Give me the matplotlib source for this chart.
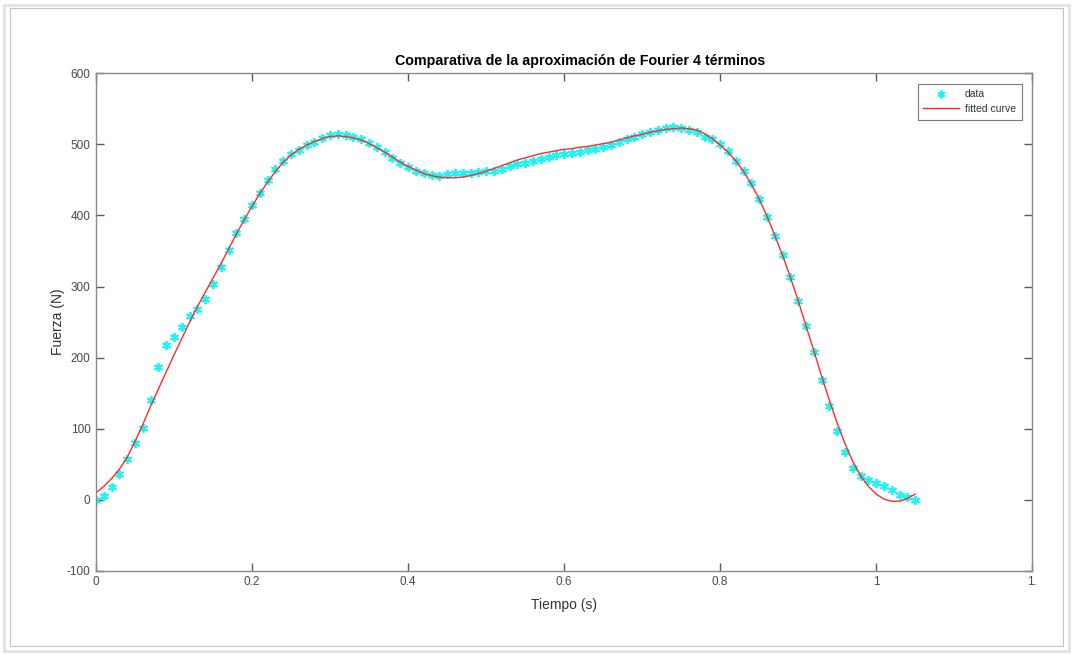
"""Comparativa de la aproximación de Fourier (4 términos) frente a los datos medidos."""

import numpy as np
import matplotlib
matplotlib.use("Agg")
import matplotlib.pyplot as plt
from matplotlib.patches import Rectangle

plt.rcParams["font.family"] = ["Liberation Sans", "DejaVu Sans"]
plt.rcParams["axes.unicode_minus"] = False

# tiempo (s), muestreo cada 0.01 s
tiempo = np.round(np.arange(0, 106) * 0.01, 2)

# datos medidos, fuerza (N)
fuerza = [
    0, 6, 18, 36, 58, 80, 101, 140, 187, 218,
    229, 243, 259, 268, 282, 303, 327, 352, 375, 395,
    414, 431, 450, 466, 477, 486, 492, 499, 504, 509,
    513, 514, 513, 510, 507, 502, 496, 489, 481, 474,
    468, 463, 460, 457, 456, 458, 459, 460, 460, 461,
    462, 463, 466, 469, 472, 474, 477, 480, 482, 485,
    487, 488, 489, 492, 494, 496, 499, 503, 508, 510,
    514, 517, 520, 523, 524, 523, 520, 517, 511, 507,
    500, 490, 477, 462, 445, 423, 398, 371, 345, 314,
    279, 244, 208, 169, 132, 97, 67, 45, 34, 28,
    23, 20, 14, 7, 4, 0,
]

ajuste = [
    10, 19, 30, 43, 60, 82, 106, 132, 156, 180,
    204, 227, 250, 272, 292, 312, 332, 353, 374, 394,
    413, 431, 447, 462, 475, 485, 493, 499, 504, 508,
    511, 512, 511, 509, 506, 501, 495, 489, 482, 475,
    469, 464, 459, 456, 454, 453, 453, 454, 456, 459,
    462, 466, 470, 474, 478, 481, 484, 487, 489, 491,
    493, 494, 496, 497, 499, 501, 503, 506, 509, 512,
    514, 517, 519, 521, 522, 523, 522, 520, 515, 508,
    499, 489, 477, 462, 444, 423, 399, 372, 344, 313,
    280, 245, 210, 174, 140, 108, 79, 54, 34, 19,
    8, 1, -2, -2, 2, 8,
]

xticks = [0, 0.2, 0.4, 0.6, 0.8, 1.0, 1.2]
xticklabels = ["0", "0.2", "0.4", "0.6", "0.8", "1", "1."]
yticks = [-100, 0, 100, 200, 300, 400, 500, 600]

fig = plt.figure(figsize=(10.73, 6.54), dpi=100)
fig.patch.set_facecolor("white")

# marco de la ventana (sombra gris alrededor)
fig.add_artist(Rectangle((0.004, 0.004), 0.992, 0.988, transform=fig.transFigure,
                         fill=False, edgecolor="#e2e2e2", linewidth=2))
fig.add_artist(Rectangle((0.009, 0.012), 0.982, 0.976, transform=fig.transFigure,
                         fill=False, edgecolor="#c4c4c4", linewidth=0.8))

ax = fig.add_axes([0.0895, 0.127, 0.8725, 0.761])
ax.plot(tiempo, fuerza, linestyle="none", marker=(6, 2, 0), markersize=6.5,
        markeredgewidth=1.3, color="#1cf5f5", label="data")
ax.plot(tiempo, ajuste, color="#ff2a2a", linewidth=1.0, label="fitted curve")

ax.set_xlim(0, 1.2)
ax.set_ylim(-100, 600)
ax.set_xticks(xticks)
ax.set_xticklabels(xticklabels)
ax.set_yticks(yticks)

for sp in ax.spines.values():
    sp.set_color("#8a8a8a")
    sp.set_linewidth(1.0)
ax.tick_params(direction="in", length=6, width=1.0, color="#5a5a5a",
               labelcolor="#4a4a4a", labelsize=8.5, top=True, right=True, pad=4)

ax.set_title("Comparativa de la aproximación de Fourier 4 términos",
             fontsize=10.3, fontweight="bold", pad=6, x=0.517)
ax.set_xlabel("Tiempo (s)", fontsize=10, color="#333333", labelpad=7)
ax.set_ylabel("Fuerza (N)", fontsize=10, color="#333333", labelpad=1)

leg = ax.legend(loc="upper right", fontsize=7.5, frameon=True, fancybox=False,
                borderaxespad=1.0, handlelength=3.4, borderpad=0.55,
                labelspacing=0.45, handletextpad=0.6, markerscale=0.9)
leg.get_frame().set_edgecolor("#5a5a5a")
leg.get_frame().set_linewidth(0.8)
for t in leg.get_texts():
    t.set_color("#333333")

fig.savefig("out.png", dpi=100)
